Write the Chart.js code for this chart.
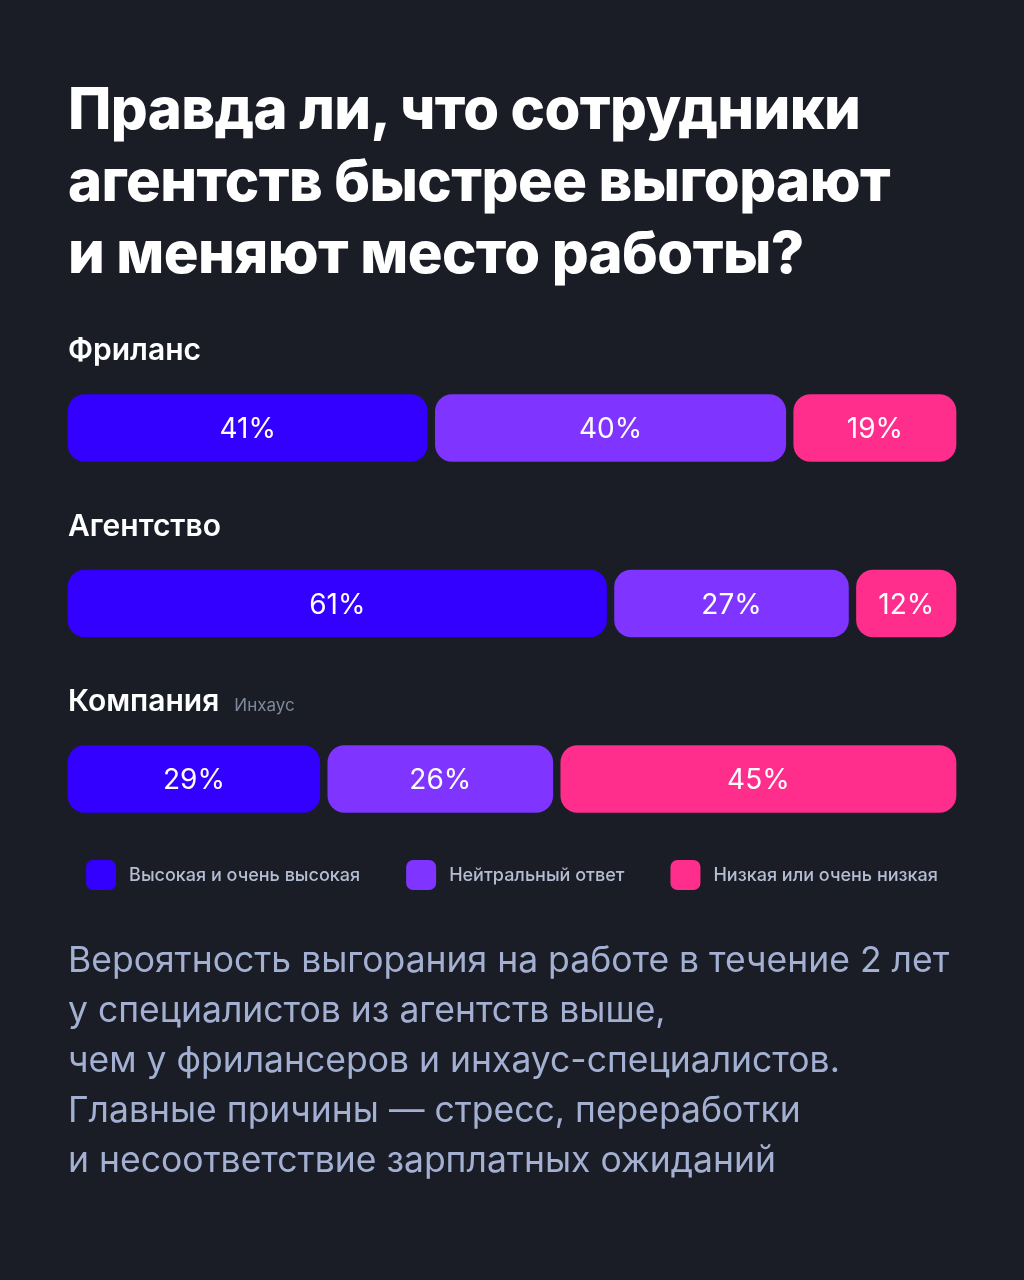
<!DOCTYPE html>
<html>
<head>
<meta charset="utf-8">
<script src="https://cdn.jsdelivr.net/npm/chart.js@4/dist/chart.umd.min.js"></script>
<style>
  html, body { margin:0; padding:0; background:#1a1d26; }
  #wrap { position:relative; width:1024px; height:1280px; overflow:hidden; }
  #c { position:absolute; left:0; top:0; }
  #title { position:absolute; left:68px; top:72px; font-family:Inter, sans-serif; font-weight:800; font-size:58px; line-height:72px; color:#ffffff; letter-spacing:-0.6px; white-space:nowrap; }
  #note { position:absolute; left:68px; top:935px; font-family:Inter, sans-serif; font-weight:400; font-size:35.5px; line-height:50px; color:#a3b0d2; white-space:nowrap; }
</style>
</head>
<body>
<div id="wrap">
  <canvas id="c" width="1024" height="1280"></canvas>
  <div id="title">Правда ли, что сотрудники<br>агентств быстрее выгорают<br>и меняют место работы?</div>
  <div id="note">Вероятность выгорания на работе в течение 2 лет<br>у специалистов из агентств выше,<br>чем у фрилансеров и инхаус-специалистов.<br>Главные причины — стресс, переработки<br>и несоответствие зарплатных ожиданий</div>
</div>
<script>
const categories = ['Фриланс', 'Агентство', 'Компания'];
const subLabels = ['', '', 'Инхаус'];
const seriesNames = ['Высокая и очень высокая', 'Нейтральный ответ', 'Низкая или очень низкая'];
const highValues = [41, 61, 29];
const neutralValues = [40, 27, 26];
const lowValues = [19, 12, 45];
const seriesColors = ['#3300ff', '#7f35ff', '#ff2e8c'];

const BG = '#1a1d26';
const valueSets = [highValues, neutralValues, lowValues];

// floating [start, end] ranges built from the values so every segment gets rounded corners
function rangesFor(k) {
  return categories.map((_, i) => {
    let start = 0;
    for (let j = 0; j < k; j++) start += valueSets[j][i];
    return [start, start + valueSets[k][i]];
  });
}

const barLabels = {
  id: 'barLabels',
  afterDatasetsDraw(chart) {
    const ctx = chart.ctx;
    ctx.save();
    ctx.fillStyle = '#ffffff';
    ctx.font = '400 28px Inter, sans-serif';
    ctx.textAlign = 'center';
    ctx.textBaseline = 'alphabetic';
    chart.data.datasets.forEach((ds, di) => {
      const meta = chart.getDatasetMeta(di);
      meta.data.forEach((el, i) => {
        const cx = (el.x + el.base) / 2;
        ctx.fillText(valueSets[di][i] + '%', cx, el.y + 10);
      });
    });
    ctx.restore();
  }
};

const catLabels = {
  id: 'catLabels',
  afterDraw(chart) {
    const ctx = chart.ctx;
    const y = chart.scales.y;
    ctx.save();
    ctx.textAlign = 'left';
    ctx.textBaseline = 'alphabetic';
    categories.forEach((c, i) => {
      const py = y.getPixelForValue(i) - 68;
      ctx.font = '600 30px Inter, sans-serif';
      ctx.fillStyle = '#ffffff';
      ctx.fillText(c, 68, py);
      if (subLabels[i]) {
        const w = ctx.measureText(c).width;
        ctx.font = '400 17px Inter, sans-serif';
        ctx.fillStyle = '#7f889d';
        ctx.fillText(subLabels[i], 68 + w + 15, py);
      }
    });
    ctx.restore();
  }
};

const customLegend = {
  id: 'customLegend',
  afterDraw(chart) {
    const ctx = chart.ctx;
    const y = chart.scales.y;
    const cy = y.getPixelForValue(categories.length - 1) + 96;
    const box = 30, gapText = 13, gapItem = 46;
    ctx.save();
    ctx.font = '500 18px Inter, sans-serif';
    const widths = chart.data.datasets.map(ds => box + gapText + ctx.measureText(ds.label).width);
    const total = widths.reduce((a, b) => a + b, 0) + gapItem * (widths.length - 1);
    let x = chart.width / 2 - total / 2;
    chart.data.datasets.forEach((ds, i) => {
      ctx.fillStyle = ds.backgroundColor;
      ctx.beginPath();
      ctx.roundRect(x, cy - box / 2, box, box, 7);
      ctx.fill();
      ctx.fillStyle = '#b5bdd3';
      ctx.textAlign = 'left';
      ctx.textBaseline = 'middle';
      ctx.fillText(ds.label, x + box + gapText, cy + 1);
      x += widths[i] + gapItem;
    });
    ctx.restore();
  }
};

new Chart(document.getElementById('c'), {
  type: 'bar',
  data: {
    labels: categories,
    datasets: seriesNames.map((name, k) => ({
      label: name,
      data: rangesFor(k),
      backgroundColor: seriesColors[k],
      borderColor: BG,
      borderWidth: 4,
      borderRadius: 21,
      borderSkipped: false,
      barThickness: 75,
      grouped: false,
      clip: false
    }))
  },
  options: {
    indexAxis: 'y',
    responsive: false,
    animation: false,
    devicePixelRatio: 1,
    layout: { padding: { left: 64, right: 64, top: 428, bottom: 501 } },
    plugins: {
      legend: { display: false },
      tooltip: { enabled: false },
      title: { display: false }
    },
    scales: {
      x: { min: 0, max: 100, display: false },
      y: { display: false, offset: false }
    }
  },
  plugins: [barLabels, catLabels, customLegend]
});
</script>
</body>
</html>
